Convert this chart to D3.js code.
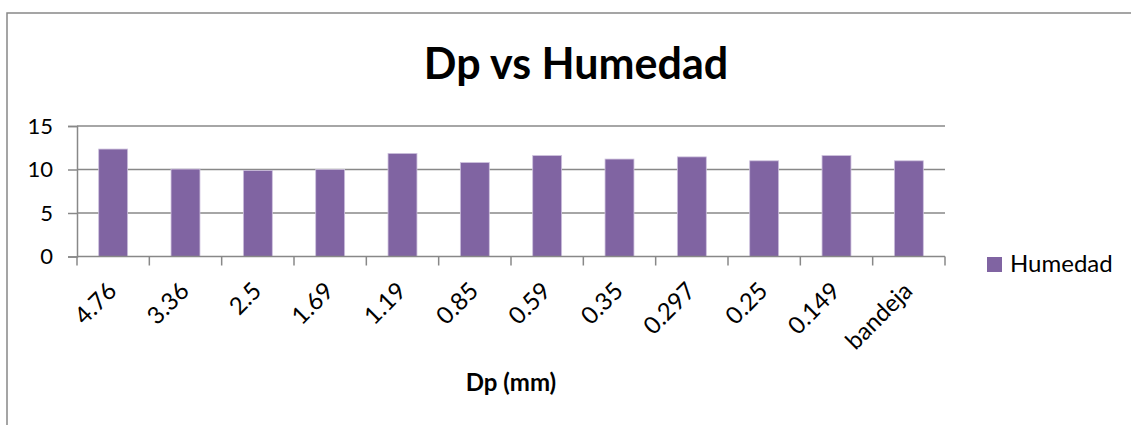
<!DOCTYPE html>
<html>
<head>
<meta charset="utf-8">
<script src="https://cdn.jsdelivr.net/npm/d3@7"></script>
<style>
  body { margin: 0; background: #fff; }
  text { font-family: Lato, "Open Sans", sans-serif; fill: #000; }
</style>
</head>
<body>
<svg id="chart"></svg>
<script>
var width = 1131, height = 425

var categories = ["4.76", "3.36", "2.5", "1.69", "1.19", "0.85", "0.59", "0.35", "0.297", "0.25", "0.149", "bandeja"]
var humedad = [12.35, 10.05, 9.9, 10.0, 11.85, 10.8, 11.6, 11.2, 11.45, 11.0, 11.6, 11.0]
var yTicks = [0, 5, 10, 15]

var svg = d3.select("#chart")
    .attr("width", width)
    .attr("height", height)

// chart area border (runs off right and bottom edges)
svg.append("path")
    .attr("d", "M7," + height + "V13H" + width)
    .attr("fill", "none")
    .attr("stroke", "#888")
    .attr("stroke-width", 1.5)

var x = d3.scaleBand()
    .domain(categories)
    .range([77, 945])
    .paddingInner(0.6)
    .paddingOuter(0.3)

var y = d3.scaleLinear()
    .domain([0, 15])
    .range([256.5, 126])

// gridlines
svg.append("g")
    .selectAll("line")
    .data(yTicks.slice(1))
    .enter()
    .append("line")
        .attr("x1", 77)
        .attr("x2", 945)
        .attr("y1", function(d) { return y(d) })
        .attr("y2", function(d) { return y(d) })
        .attr("stroke", "#888")
        .attr("stroke-width", 1.5)

// bars
svg.append("g")
    .selectAll("rect")
    .data(humedad)
    .enter()
    .append("rect")
        .attr("x", function(d, i) { return x(categories[i]) })
        .attr("y", function(d) { return y(d) })
        .attr("width", x.bandwidth())
        .attr("height", function(d) { return y(0) - y(d) })
        .attr("fill", "#8064a2")
        .attr("stroke", "#cdc1dd")
        .attr("stroke-width", 0.8)

// y axis
var yAxis = svg.append("g")
    .attr("transform", "translate(77,0)")
    .call(d3.axisLeft(y).tickValues(yTicks).tickSize(9).tickPadding(15))
yAxis.select(".domain").attr("stroke", "#888").attr("stroke-width", 1.5)
yAxis.selectAll(".tick line").attr("stroke", "#888").attr("stroke-width", 1.5)
yAxis.selectAll(".tick text")
    .style("font-family", "Lato, sans-serif")
    .style("font-size", "22px")
    .attr("fill", "#000")

// x axis: ticks at category boundaries
var xAxis = svg.append("g")
    .attr("transform", "translate(0," + y(0) + ")")
xAxis.append("line")
    .attr("x1", 77).attr("x2", 945)
    .attr("stroke", "#888").attr("stroke-width", 1.5)
xAxis.selectAll(".bt")
    .data(d3.range(categories.length + 1))
    .enter()
    .append("line")
        .attr("class", "bt")
        .attr("x1", function(i) { return 77 + i * x.step() })
        .attr("x2", function(i) { return 77 + i * x.step() })
        .attr("y1", 0).attr("y2", 9)
        .attr("stroke", "#888").attr("stroke-width", 1.5)
xAxis.selectAll("text")
    .data(categories)
    .enter()
    .append("text")
        .attr("transform", function(d) {
            return "translate(" + (x(d) + x.bandwidth() / 2 + 5) + ",36) rotate(-45)"
        })
        .attr("text-anchor", "end")
        .style("font-size", "24px")
        .text(function(d) { return d })

// title
svg.append("text")
    .attr("x", 576)
    .attr("y", 79)
    .attr("text-anchor", "middle")
    .style("font-size", "43px")
    .style("font-weight", "bold")
    .text("Dp vs Humedad")

// x axis title
svg.append("text")
    .attr("x", 511)
    .attr("y", 391)
    .attr("text-anchor", "middle")
    .style("font-size", "24px")
    .style("font-weight", "bold")
    .text("Dp (mm)")

// legend
var legend = svg.append("g")
legend.append("rect")
    .attr("x", 987).attr("y", 257)
    .attr("width", 15).attr("height", 15)
    .attr("fill", "#8064a2")
legend.append("text")
    .attr("x", 1010).attr("y", 272)
    .style("font-size", "24px")
    .text("Humedad")
</script>
</body>
</html>
